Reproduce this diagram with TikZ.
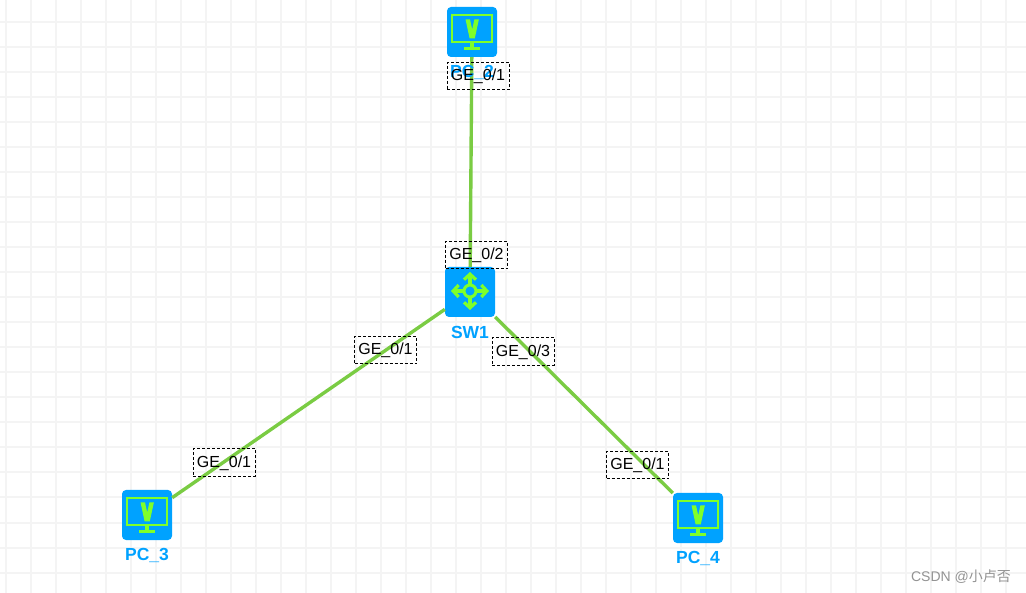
\documentclass[tikz,border=0pt]{standalone}
\usepackage{fontspec}
\setmainfont{Liberation Sans}
\newfontfamily\cjkfont{Noto Sans CJK SC}
\usepackage{xcolor}
\usetikzlibrary{arrows.meta}
\definecolor{gridgray}{RGB}{244, 244, 244}
\definecolor{devblue}{RGB}{0, 162, 255}
\definecolor{icongreen}{RGB}{127, 255, 42}
\definecolor{linkgreen}{RGB}{122, 204, 67}
\begin{document}
\begin{tikzpicture}[x=1pt, y=-1pt,
  device/.style={rectangle, fill=devblue, rounded corners=4pt, inner sep=0pt,
                 minimum size=50pt},
  devname/.style={text=devblue, inner sep=0pt,
                  font=\fontsize{17.5}{19}\selectfont\bfseries},
  port/.style={rectangle, draw=black, dashed, line width=0.9pt,
               dash pattern=on 3pt off 2pt, inner sep=0pt,
               minimum width=62pt, minimum height=27.5pt,
               text height=12.5pt, text depth=2.5pt,
               font=\fontsize{16}{18}\selectfont},
  link/.style={linkgreen, line width=3.4pt},
  monitor/.pic={
    \draw[icongreen, line width=2.8pt] (-20,-17) rectangle (20,10);
    \fill[icongreen] (-6.5,-12.7) -- (-2,-12.7) -- (0.2,-2.5) -- (2.4,-12.7)
      -- (6.9,-12.7) -- (2.8,6.3) -- (-2.4,6.3) -- cycle;
    \fill[icongreen] (-2,11) rectangle (2,15.5);
    \fill[icongreen] (-8,15.3) rectangle (8,18);
  },
  hub/.pic={
    \draw[icongreen, line width=3pt] (0,-1) circle (6pt);
    \foreach \a in {0,90,180,270} {
      \draw[icongreen, line width=3.2pt,
            -{Straight Barb[length=5.5pt, width=12pt, line width=3.2pt]}]
        ([shift={(\a:7)}]0,-1) -- ([shift={(\a:19)}]0,-1);
    }
  },
]
\useasboundingbox (0,0) rectangle (1026,593);
\fill[white] (0,0) rectangle (1026,593);
\foreach \gx in {6,31,...,1006} {
  \draw[gridgray, line width=2pt] (\gx,0) -- (\gx,593);
}
\foreach \gy in {22.5,47.5,...,572.5} {
  \draw[gridgray, line width=2pt] (0,\gy) -- (1026,\gy);
}
\node[device] (PC2) at (472, 32) {};
\node[device] (SW1) at (470, 292) {};
\node[device] (PC3) at (147, 515) {};
\node[device] (PC4) at (698, 518) {};
\draw[link] (PC2) -- (SW1);
\draw[link] (SW1) -- (PC3);
\draw[link] (SW1) -- (PC4);
\pic at (PC2) {monitor};
\pic at (SW1) {hub};
\pic at (PC3) {monitor};
\pic at (PC4) {monitor};
\node[devname] (PC2name) at (472, 72) {PC\_2};
\node[devname] (SW1name) at (470, 332) {SW1};
\node[devname] (PC3name) at (147, 555) {PC\_3};
\node[devname] (PC4name) at (698, 558) {PC\_4};
\node[port] (PC2port) at (478, 76) {GE\_0/1};
\node[port] (SW1top) at (476.5, 255) {GE\_0/2};
\node[port] (SW1left) at (385.5, 350) {GE\_0/1};
\node[port] (SW1right) at (523, 351.5) {GE\_0/3};
\node[port] (PC3port) at (224, 462.5) {GE\_0/1};
\node[port] (PC4port) at (637.5, 465) {GE\_0/1};
\node[text=gray!85, inner sep=0pt, font=\fontsize{14}{16}\selectfont] (mark) at (961, 577)
  {CSDN @{\cjkfont 小卢否}};
\end{tikzpicture}
\end{document}
